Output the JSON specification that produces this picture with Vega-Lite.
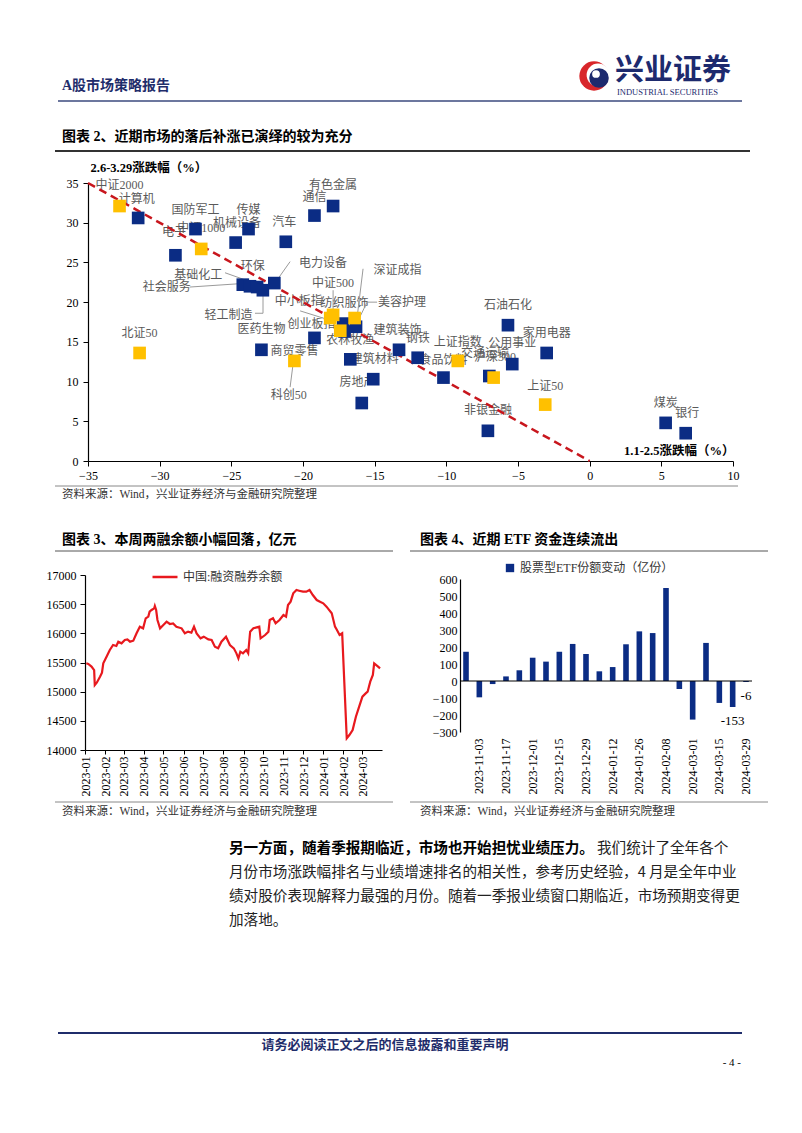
{
  "$schema": "https://vega.github.io/schema/vega-lite/v6.json",
  "padding": 0,
  "autosize": {"type": "pad"},
  "background": "white",
  "bounds": "flush",
  "spacing": 0,
  "resolve": {"scale": {"color": "independent"}, "legend": {"color": "independent"}},
  "datasets": {
    "scatter": [
      {"name": "计算机", "t": "行业", "x": -31.5, "y": 30.6, "lx": -31.6, "ly": 33.0},
      {"name": "电子", "t": "行业", "x": -28.9, "y": 25.9, "lx": -29.0, "ly": 28.8},
      {"name": "国防军工", "t": "行业", "x": -27.5, "y": 29.2, "lx": -27.5, "ly": 31.6},
      {"name": "机械设备", "t": "行业", "x": -24.7, "y": 27.5, "lx": -24.6, "ly": 30.0},
      {"name": "传媒", "t": "行业", "x": -23.8, "y": 29.2, "lx": -23.8, "ly": 31.6},
      {"name": "汽车", "t": "行业", "x": -21.2, "y": 27.6, "lx": -21.3, "ly": 30.1},
      {"name": "通信", "t": "行业", "x": -19.2, "y": 30.9, "lx": -19.2, "ly": 33.2},
      {"name": "有色金属", "t": "行业", "x": -17.9, "y": 32.1, "lx": -17.9, "ly": 34.8},
      {"name": "社会服务", "t": "行业", "x": -24.2, "y": 22.2, "lx": -29.5, "ly": 21.9},
      {"name": "基础化工", "t": "行业", "x": -23.7, "y": 22.0, "lx": -27.3, "ly": 23.4},
      {"name": "环保", "t": "行业", "x": -23.2, "y": 21.9, "lx": -23.5, "ly": 24.6},
      {"name": "轻工制造", "t": "行业", "x": -22.8, "y": 21.5, "lx": -25.2, "ly": 18.4},
      {"name": "电力设备", "t": "行业", "x": -22.0, "y": 22.4, "lx": -18.6, "ly": 24.9},
      {"name": "医药生物", "t": "行业", "x": -19.2, "y": 15.5, "lx": -22.9, "ly": 16.6},
      {"name": "商贸零售", "t": "行业", "x": -22.9, "y": 14.0, "lx": -20.6, "ly": 13.9},
      {"name": "农林牧渔", "t": "行业", "x": -17.1, "y": 16.3, "lx": -16.7, "ly": 15.2},
      {"name": "纺织服饰", "t": "行业", "x": -17.2, "y": 17.3, "lx": -17.1, "ly": 19.9},
      {"name": "美容护理", "t": "行业", "x": -16.3, "y": 16.9, "lx": -13.1, "ly": 20.0},
      {"name": "建筑装饰", "t": "行业", "x": -13.3, "y": 14.0, "lx": -13.4, "ly": 16.5},
      {"name": "钢铁", "t": "行业", "x": -12.0, "y": 13.0, "lx": -12.0, "ly": 15.5},
      {"name": "建筑材料", "t": "行业", "x": -16.7, "y": 12.8, "lx": -15.0, "ly": 12.8},
      {"name": "房地产", "t": "行业", "x": -15.1, "y": 10.3, "lx": -16.2, "ly": 9.9},
      {"name": "综合", "t": "行业", "x": -15.9, "y": 7.3},
      {"name": "食品饮料", "t": "行业", "x": -10.2, "y": 10.5, "lx": -10.2, "ly": 12.7},
      {"name": "交通运输", "t": "行业", "x": -7.0, "y": 10.7, "lx": -7.3, "ly": 13.6},
      {"name": "公用事业", "t": "行业", "x": -5.4, "y": 12.2, "lx": -5.4, "ly": 14.9},
      {"name": "石油石化", "t": "行业", "x": -5.7, "y": 17.1, "lx": -5.7, "ly": 19.6},
      {"name": "家用电器", "t": "行业", "x": -3.0, "y": 13.6, "lx": -3.0, "ly": 16.1},
      {"name": "非银金融", "t": "行业", "x": -7.1, "y": 3.8, "lx": -7.1, "ly": 6.4},
      {"name": "煤炭", "t": "行业", "x": 5.3, "y": 4.8, "lx": 5.3, "ly": 7.3},
      {"name": "银行", "t": "行业", "x": 6.7, "y": 3.5, "lx": 6.8, "ly": 6.0},
      {"name": "中证2000", "t": "指数", "x": -32.8, "y": 32.1, "lx": -32.8, "ly": 34.8},
      {"name": "中证1000", "t": "指数", "x": -27.1, "y": 26.7, "lx": -27.1, "ly": 29.3},
      {"name": "中证500", "t": "指数", "x": -17.9, "y": 18.4, "lx": -17.9, "ly": 22.4},
      {"name": "中小板指", "t": "指数", "x": -18.1, "y": 18.0, "lx": -20.3, "ly": 20.2},
      {"name": "深证成指", "t": "指数", "x": -16.4, "y": 18.0, "lx": -13.4, "ly": 24.1},
      {"name": "创业板指", "t": "指数", "x": -17.4, "y": 16.4, "lx": -19.4, "ly": 17.3},
      {"name": "北证50", "t": "指数", "x": -31.4, "y": 13.6, "lx": -31.4, "ly": 16.1},
      {"name": "科创50", "t": "指数", "x": -20.6, "y": 12.6, "lx": -21.0, "ly": 8.3},
      {"name": "上证指数", "t": "指数", "x": -9.2, "y": 12.6, "lx": -9.2, "ly": 15.0},
      {"name": "沪深300", "t": "指数", "x": -6.7, "y": 10.5, "lx": -6.6, "ly": 13.1},
      {"name": "上证50", "t": "指数", "x": -3.1, "y": 7.1, "lx": -3.1, "ly": 9.4}
    ],
    "leaders": [
      {"x1": -25.44, "y1": 23.7, "x2": -23.1, "y2": 22.2},
      {"x1": -27.9, "y1": 21.9, "x2": -24.6, "y2": 22.3},
      {"x1": -20.9, "y1": 25.1, "x2": -21.8, "y2": 22.8},
      {"x1": -23.35, "y1": 18.6, "x2": -22.79, "y2": 18.6},
      {"x1": -22.79, "y1": 18.6, "x2": -22.79, "y2": 21.5},
      {"x1": -17.9, "y1": 21.5, "x2": -17.9, "y2": 19.0},
      {"x1": -15.81, "y1": 24.2, "x2": -16.23, "y2": 18.0},
      {"x1": -14.83, "y1": 20.0, "x2": -15.53, "y2": 20.0},
      {"x1": -15.53, "y1": 20.0, "x2": -16.23, "y2": 17.4},
      {"x1": -20.2, "y1": 18.9, "x2": -18.25, "y2": 17.8},
      {"x1": -20.9, "y1": 9.3, "x2": -20.7, "y2": 12.1}
    ],
    "trend": [
      {"x": -35, "y": 35},
      {"x": 0, "y": 0}
    ],
    "margin": [
      {"d": "2023/01/03", "v": 15486}, {"d": "2023/01/06", "v": 15474}, {"d": "2023/01/11", "v": 15429},
      {"d": "2023/01/15", "v": 15371}, {"d": "2023/01/16", "v": 15114}, {"d": "2023/01/19", "v": 15154},
      {"d": "2023/01/24", "v": 15257}, {"d": "2023/01/27", "v": 15326}, {"d": "2023/01/29", "v": 15486},
      {"d": "2023/02/03", "v": 15600}, {"d": "2023/02/08", "v": 15714}, {"d": "2023/02/13", "v": 15800},
      {"d": "2023/02/18", "v": 15783}, {"d": "2023/02/21", "v": 15857}, {"d": "2023/02/26", "v": 15829},
      {"d": "2023/03/03", "v": 15886}, {"d": "2023/03/07", "v": 15897}, {"d": "2023/03/11", "v": 15857},
      {"d": "2023/03/16", "v": 15874}, {"d": "2023/03/21", "v": 16000}, {"d": "2023/03/26", "v": 16114},
      {"d": "2023/03/31", "v": 16086}, {"d": "2023/04/04", "v": 16257}, {"d": "2023/04/08", "v": 16286},
      {"d": "2023/04/10", "v": 16371}, {"d": "2023/04/13", "v": 16400}, {"d": "2023/04/17", "v": 16429},
      {"d": "2023/04/18", "v": 16469}, {"d": "2023/04/20", "v": 16400}, {"d": "2023/04/22", "v": 16229},
      {"d": "2023/04/26", "v": 16086}, {"d": "2023/05/01", "v": 16143}, {"d": "2023/05/06", "v": 16200},
      {"d": "2023/05/11", "v": 16160}, {"d": "2023/05/16", "v": 16171}, {"d": "2023/05/21", "v": 16114},
      {"d": "2023/05/29", "v": 16086}, {"d": "2023/06/03", "v": 16000}, {"d": "2023/06/08", "v": 16029},
      {"d": "2023/06/13", "v": 16011}, {"d": "2023/06/17", "v": 16114}, {"d": "2023/06/21", "v": 16000},
      {"d": "2023/06/27", "v": 15914}, {"d": "2023/07/02", "v": 15943}, {"d": "2023/07/09", "v": 15897},
      {"d": "2023/07/14", "v": 15886}, {"d": "2023/07/19", "v": 15771}, {"d": "2023/07/24", "v": 15743},
      {"d": "2023/07/29", "v": 15857}, {"d": "2023/08/05", "v": 15943}, {"d": "2023/08/11", "v": 15800},
      {"d": "2023/08/17", "v": 15743}, {"d": "2023/08/21", "v": 15657}, {"d": "2023/08/24", "v": 15571},
      {"d": "2023/08/27", "v": 15686}, {"d": "2023/08/31", "v": 15657}, {"d": "2023/09/05", "v": 15714},
      {"d": "2023/09/08", "v": 15657}, {"d": "2023/09/11", "v": 16029}, {"d": "2023/09/16", "v": 16086},
      {"d": "2023/09/21", "v": 16103}, {"d": "2023/09/25", "v": 16114}, {"d": "2023/09/27", "v": 15914},
      {"d": "2023/10/04", "v": 15971}, {"d": "2023/10/09", "v": 16029}, {"d": "2023/10/11", "v": 16229},
      {"d": "2023/10/16", "v": 16257}, {"d": "2023/10/20", "v": 16171}, {"d": "2023/10/26", "v": 16229},
      {"d": "2023/11/01", "v": 16314}, {"d": "2023/11/05", "v": 16286}, {"d": "2023/11/08", "v": 16486},
      {"d": "2023/11/12", "v": 16543}, {"d": "2023/11/16", "v": 16686}, {"d": "2023/11/21", "v": 16743},
      {"d": "2023/11/25", "v": 16731}, {"d": "2023/12/01", "v": 16714}, {"d": "2023/12/06", "v": 16714},
      {"d": "2023/12/11", "v": 16743}, {"d": "2023/12/16", "v": 16657}, {"d": "2023/12/22", "v": 16571},
      {"d": "2023/12/27", "v": 16543}, {"d": "2024/01/01", "v": 16514}, {"d": "2024/01/06", "v": 16457},
      {"d": "2024/01/14", "v": 16343}, {"d": "2024/01/19", "v": 16114}, {"d": "2024/01/22", "v": 16057},
      {"d": "2024/01/26", "v": 15971}, {"d": "2024/01/30", "v": 16000}, {"d": "2024/02/06", "v": 14200},
      {"d": "2024/02/10", "v": 14257}, {"d": "2024/02/15", "v": 14343}, {"d": "2024/02/20", "v": 14571},
      {"d": "2024/02/25", "v": 14743}, {"d": "2024/03/01", "v": 14914}, {"d": "2024/03/06", "v": 14971},
      {"d": "2024/03/09", "v": 15000}, {"d": "2024/03/13", "v": 15171}, {"d": "2024/03/17", "v": 15286},
      {"d": "2024/03/19", "v": 15486}, {"d": "2024/03/25", "v": 15429}, {"d": "2024/03/28", "v": 15400}
    ],
    "etf": [
      {"w": "2023-10-27", "v": 172}, {"w": "2023-11-03", "v": -96}, {"w": "2023-11-10", "v": -18},
      {"w": "2023-11-17", "v": 27}, {"w": "2023-11-24", "v": 63}, {"w": "2023-12-01", "v": 137},
      {"w": "2023-12-08", "v": 114}, {"w": "2023-12-15", "v": 172}, {"w": "2023-12-22", "v": 218},
      {"w": "2023-12-29", "v": 159}, {"w": "2024-01-05", "v": 57}, {"w": "2024-01-12", "v": 82},
      {"w": "2024-01-19", "v": 216}, {"w": "2024-01-26", "v": 292}, {"w": "2024-02-02", "v": 282},
      {"w": "2024-02-08", "v": 547}, {"w": "2024-02-23", "v": -47}, {"w": "2024-03-01", "v": -227},
      {"w": "2024-03-08", "v": 224}, {"w": "2024-03-15", "v": -129}, {"w": "2024-03-22", "v": -153, "lbl": "-153"},
      {"w": "2024-03-29", "v": -6, "lbl": "-6"}
    ]
  },
  "vconcat": [
    {
      "width": 802,
      "height": 183,
      "data": {"values": [{}]},
      "layer": [
        {"mark": {"type": "text", "text": "A股市场策略报告", "align": "left", "baseline": "middle", "fontSize": 14, "fontWeight": "bold", "color": "#1f2d6b", "font": "Liberation Serif, Noto Sans CJK SC"}, "encoding": {"x": {"value": 62}, "y": {"value": 86}}},
        {"mark": {"type": "point", "shape": "circle", "filled": true, "size": 860, "color": "#d8262a", "opacity": 1}, "encoding": {"x": {"value": 594}, "y": {"value": 76}}},
        {"mark": {"type": "point", "shape": "circle", "filled": true, "size": 520, "color": "#ffffff", "opacity": 1}, "encoding": {"x": {"value": 598}, "y": {"value": 75}}},
        {"mark": {"type": "point", "shape": "circle", "filled": true, "size": 380, "color": "#1d2a6e", "opacity": 1}, "encoding": {"x": {"value": 599}, "y": {"value": 78}}},
        {"mark": {"type": "point", "shape": "circle", "filled": true, "size": 60, "color": "#ffffff", "opacity": 1}, "encoding": {"x": {"value": 596}, "y": {"value": 74}}},
        {"mark": {"type": "text", "text": "兴业证券", "align": "left", "baseline": "middle", "fontSize": 29, "fontWeight": "bold", "color": "#1d2a6e", "font": "Noto Sans CJK SC"}, "encoding": {"x": {"value": 615}, "y": {"value": 71}}},
        {"mark": {"type": "text", "text": "INDUSTRIAL SECURITIES", "align": "left", "baseline": "middle", "fontSize": 8.5, "color": "#1d2a6e", "font": "Liberation Serif"}, "encoding": {"x": {"value": 617}, "y": {"value": 92}}},
        {"mark": {"type": "rule", "color": "#3b4a7e", "strokeWidth": 1.5}, "encoding": {"x": {"value": 58}, "x2": {"value": 742}, "y": {"value": 101}}},
        {"mark": {"type": "text", "text": "图表 2、近期市场的落后补涨已演绎的较为充分", "align": "left", "baseline": "middle", "fontSize": 14, "fontWeight": "bold", "color": "#000000", "font": "Liberation Serif, Noto Sans CJK SC"}, "encoding": {"x": {"value": 62}, "y": {"value": 137}}},
        {"mark": {"type": "rule", "color": "#333333", "strokeWidth": 2}, "encoding": {"x": {"value": 55}, "x2": {"value": 750}, "y": {"value": 151}}},
        {"mark": {"type": "rule", "color": "#888888", "strokeWidth": 1}, "encoding": {"x": {"value": 55}, "x2": {"value": 738}, "y": {"value": 486}}},
        {"mark": {"type": "text", "text": "资料来源：Wind，兴业证券经济与金融研究院整理", "align": "left", "baseline": "middle", "fontSize": 11.5, "color": "#333333", "font": "Liberation Serif, Noto Sans CJK SC"}, "encoding": {"x": {"value": 62}, "y": {"value": 495}}},
        {"mark": {"type": "text", "text": "图表 3、本周两融余额小幅回落，亿元", "align": "left", "baseline": "middle", "fontSize": 14, "fontWeight": "bold", "color": "#000000", "font": "Liberation Serif, Noto Sans CJK SC"}, "encoding": {"x": {"value": 62}, "y": {"value": 540}}},
        {"mark": {"type": "rule", "color": "#555555", "strokeWidth": 1}, "encoding": {"x": {"value": 55}, "x2": {"value": 393}, "y": {"value": 551}}},
        {"mark": {"type": "text", "text": "图表 4、近期 ETF 资金连续流出", "align": "left", "baseline": "middle", "fontSize": 14, "fontWeight": "bold", "color": "#000000", "font": "Liberation Serif, Noto Sans CJK SC"}, "encoding": {"x": {"value": 420}, "y": {"value": 540}}},
        {"mark": {"type": "rule", "color": "#555555", "strokeWidth": 1}, "encoding": {"x": {"value": 410}, "x2": {"value": 768}, "y": {"value": 551}}},
        {"mark": {"type": "rule", "color": "#888888", "strokeWidth": 1}, "encoding": {"x": {"value": 55}, "x2": {"value": 393}, "y": {"value": 802}}},
        {"mark": {"type": "rule", "color": "#888888", "strokeWidth": 1}, "encoding": {"x": {"value": 410}, "x2": {"value": 768}, "y": {"value": 802}}},
        {"mark": {"type": "text", "text": "资料来源：Wind，兴业证券经济与金融研究院整理", "align": "left", "baseline": "middle", "fontSize": 11.5, "color": "#333333", "font": "Liberation Serif, Noto Sans CJK SC"}, "encoding": {"x": {"value": 62}, "y": {"value": 812}}},
        {"mark": {"type": "text", "text": "资料来源：Wind，兴业证券经济与金融研究院整理", "align": "left", "baseline": "middle", "fontSize": 11.5, "color": "#333333", "font": "Liberation Serif, Noto Sans CJK SC"}, "encoding": {"x": {"value": 420}, "y": {"value": 812}}},
        {"mark": {"type": "text", "text": "另一方面，随着季报期临近，市场也开始担忧业绩压力。", "align": "left", "baseline": "middle", "fontSize": 14.6, "fontWeight": "bold", "color": "#000000", "font": "Noto Sans CJK SC"}, "encoding": {"x": {"value": 229}, "y": {"value": 849}}},
        {"mark": {"type": "text", "text": "我们统计了全年各个", "align": "left", "baseline": "middle", "fontSize": 14.6, "color": "#222222", "font": "Noto Sans CJK SC"}, "encoding": {"x": {"value": 597}, "y": {"value": 849}}},
        {"mark": {"type": "text", "text": "月份市场涨跌幅排名与业绩增速排名的相关性，参考历史经验，4 月是全年中业", "align": "left", "baseline": "middle", "fontSize": 14.6, "color": "#222222", "font": "Noto Sans CJK SC"}, "encoding": {"x": {"value": 229}, "y": {"value": 873}}},
        {"mark": {"type": "text", "text": "绩对股价表现解释力最强的月份。随着一季报业绩窗口期临近，市场预期变得更", "align": "left", "baseline": "middle", "fontSize": 14.6, "color": "#222222", "font": "Noto Sans CJK SC"}, "encoding": {"x": {"value": 229}, "y": {"value": 897}}},
        {"mark": {"type": "text", "text": "加落地。", "align": "left", "baseline": "middle", "fontSize": 14.6, "color": "#222222", "font": "Noto Sans CJK SC"}, "encoding": {"x": {"value": 229}, "y": {"value": 921}}},
        {"mark": {"type": "rule", "color": "#1f2d6b", "strokeWidth": 2}, "encoding": {"x": {"value": 58}, "x2": {"value": 742}, "y": {"value": 1033}}},
        {"mark": {"type": "text", "text": "请务必阅读正文之后的信息披露和重要声明", "align": "center", "baseline": "middle", "fontSize": 13, "fontWeight": "bold", "color": "#1f2d6b", "font": "Noto Sans CJK SC"}, "encoding": {"x": {"value": 385}, "y": {"value": 1045}}},
        {"mark": {"type": "text", "text": "- 4 -", "align": "right", "baseline": "middle", "fontSize": 11, "color": "#000000", "font": "Liberation Serif"}, "encoding": {"x": {"value": 741}, "y": {"value": 1063}}}
      ]
    },
    {
      "hconcat": [
        {"width": 88, "height": 278, "data": {"values": [{}]}, "mark": {"type": "text", "text": ""}, "encoding": {}},
        {
          "width": 645,
          "height": 278,
          "layer": [
            {
              "data": {"name": "scatter"},
              "transform": [{"filter": "isValid(datum.lx)"}],
              "mark": {"type": "text", "fontSize": 12, "color": "#5a5a5a", "font": "Liberation Serif, Noto Sans CJK SC", "baseline": "middle", "align": "center"},
              "encoding": {
                "x": {"field": "lx", "type": "quantitative", "scale": {"domain": [-35, 10], "nice": false, "zero": false},
                  "axis": {"values": [-35, -30, -25, -20, -15, -10, -5, 0, 5, 10], "tickCount": 30, "title": "1.1-2.5涨跌幅（%）", "titleX": 646, "titleY": -11, "titleAlign": "right", "titleBaseline": "middle", "titleAngle": 0, "titleFontWeight": "bold", "titleFontSize": 12.5, "titleFont": "Liberation Serif, Noto Sans CJK SC", "titleColor": "#000", "tickSize": 5, "labelPadding": 4, "labelFlush": false, "labelOverlap": false}},
                "y": {"field": "ly", "type": "quantitative", "scale": {"domain": [0, 35], "nice": false, "zero": false},
                  "axis": {"values": [0, 5, 10, 15, 20, 25, 30, 35], "tickCount": 30, "title": "2.6-3.29涨跌幅（%）", "titleX": 2, "titleY": -16, "titleAlign": "left", "titleBaseline": "middle", "titleAngle": 0, "titleFontWeight": "bold", "titleFontSize": 12.5, "titleFont": "Liberation Serif, Noto Sans CJK SC", "titleColor": "#000", "tickSize": 5, "labelPadding": 5, "labelFlush": false, "labelOverlap": false}},
                "text": {"field": "name"}
              }
            },
            {
              "data": {"name": "leaders"},
              "mark": {"type": "rule", "color": "#9a9a9a", "strokeWidth": 1},
              "encoding": {
                "x": {"field": "x1", "type": "quantitative"},
                "y": {"field": "y1", "type": "quantitative"},
                "x2": {"field": "x2"},
                "y2": {"field": "y2"}
              }
            },
            {
              "data": {"name": "trend"},
              "mark": {"type": "line", "color": "#c8161d", "strokeWidth": 2.5, "strokeDash": [8, 5]},
              "encoding": {
                "x": {"field": "x", "type": "quantitative"},
                "y": {"field": "y", "type": "quantitative"}
              }
            },
            {
              "data": {"name": "scatter"},
              "mark": {"type": "square", "size": 160, "filled": true, "opacity": 1},
              "encoding": {
                "x": {"field": "x", "type": "quantitative"},
                "y": {"field": "y", "type": "quantitative"},
                "color": {"field": "t", "type": "nominal", "scale": {"domain": ["行业", "指数"], "range": ["#0b2c84", "#ffc000"]}, "legend": null}
              }
            }
          ]
        }
      ],
      "spacing": 0,
      "bounds": "flush",
      "resolve": {"scale": {"color": "independent"}, "legend": {"color": "independent"}}
    },
    {"width": 10, "height": 392, "data": {"values": [{}]}, "mark": {"type": "text", "text": ""}, "encoding": {}},
    {
      "hconcat": [
        {"width": 85, "height": 175, "data": {"values": [{}]}, "mark": {"type": "text", "text": ""}, "encoding": {}},
        {
          "width": 297,
          "height": 175,
          "data": {"name": "margin"},
          "mark": {"type": "line", "strokeWidth": 2.2},
          "encoding": {
            "x": {"field": "d", "type": "temporal",
              "scale": {"domain": [{"year": 2023, "month": 1, "date": 1}, {"year": 2024, "month": 3, "date": 31}]},
              "axis": {"format": "%Y-%m", "tickCount": {"interval": "month", "step": 1}, "labelAngle": -90, "title": null, "tickSize": 4, "labelPadding": 2, "labelFlush": false, "labelOverlap": false}},
            "y": {"field": "v", "type": "quantitative", "scale": {"domain": [14000, 17000], "nice": false, "zero": false},
              "axis": {"values": [14000, 14500, 15000, 15500, 16000, 16500, 17000], "tickCount": 30, "format": "d", "title": null, "tickSize": 5, "labelPadding": 4, "labelFlush": false, "labelOverlap": false}},
            "color": {"datum": "中国:融资融券余额", "type": "nominal", "scale": {"domain": ["中国:融资融券余额"], "range": ["#e8191e"]},
              "legend": {"orient": "none", "legendX": 66, "legendY": -12, "title": null, "symbolType": "stroke", "symbolSize": 625, "symbolStrokeWidth": 2.5, "labelFontSize": 12, "labelFont": "Liberation Serif, Noto Sans CJK SC", "labelColor": "#333333"}}
          }
        },
        {"width": 78, "height": 175, "data": {"values": [{}]}, "mark": {"type": "text", "text": ""}, "encoding": {}},
        {
          "vconcat": [
            {"width": 292, "height": 4, "data": {"values": [{}]}, "mark": {"type": "text", "text": ""}, "encoding": {}},
            {
              "width": 292,
              "height": 153,
              "data": {"name": "etf"},
              "layer": [
                {
                  "mark": {"type": "bar"},
                  "encoding": {
                    "x": {"field": "w", "type": "ordinal", "sort": null, "scale": {"paddingInner": 0.58, "paddingOuter": 0.24},
                      "axis": {"values": ["2023-11-03", "2023-11-17", "2023-12-01", "2023-12-15", "2023-12-29", "2024-01-12", "2024-01-26", "2024-02-08", "2024-03-01", "2024-03-15", "2024-03-29"], "labelAngle": -90, "title": null, "domain": false, "ticks": false, "labelPadding": 6, "labelOverlap": false}},
                    "y": {"field": "v", "type": "quantitative", "scale": {"domain": [-300, 600], "nice": false},
                      "axis": {"values": [-300, -200, -100, 0, 100, 200, 300, 400, 500, 600], "tickCount": 30, "title": null, "ticks": false, "labelPadding": 3, "labelFlush": false, "labelOverlap": false}},
                    "color": {"datum": "股票型ETF份额变动（亿份）", "type": "nominal", "scale": {"domain": ["股票型ETF份额变动（亿份）"], "range": ["#0b2c84"]},
                      "legend": {"orient": "none", "legendX": 44, "legendY": -17, "title": null, "symbolType": "square", "symbolSize": 70, "labelFontSize": 12, "labelFont": "Liberation Serif, Noto Sans CJK SC", "labelColor": "#333333"}}
                  }
                },
                {
                  "data": {"values": [{}]},
                  "mark": {"type": "rule", "color": "#000000", "strokeWidth": 1},
                  "encoding": {"y": {"datum": 0, "type": "quantitative"}}
                },
                {
                  "transform": [{"filter": "isValid(datum.lbl)"}],
                  "mark": {"type": "text", "baseline": "middle", "align": "center", "dy": 14, "fontSize": 13, "font": "Liberation Serif", "color": "#000000"},
                  "encoding": {
                    "x": {"field": "w", "type": "ordinal", "sort": null},
                    "y": {"field": "v", "type": "quantitative"},
                    "text": {"field": "lbl"}
                  }
                }
              ]
            }
          ],
          "spacing": 0,
          "bounds": "flush",
          "resolve": {"scale": {"color": "independent"}, "legend": {"color": "independent"}}
        }
      ],
      "spacing": 0,
      "bounds": "flush",
      "resolve": {"scale": {"color": "independent"}, "legend": {"color": "independent"}}
    }
  ],
  "config": {
    "view": {"stroke": null},
    "font": "Liberation Serif, Noto Sans CJK SC",
    "axis": {
      "grid": false,
      "labelFont": "Liberation Serif",
      "labelFontSize": 12,
      "labelColor": "#000000",
      "domainColor": "#000000",
      "domainWidth": 1.2,
      "tickColor": "#000000",
      "labelOverlap": false
    },
    "legend": {"labelLimit": 300}
  }
}
